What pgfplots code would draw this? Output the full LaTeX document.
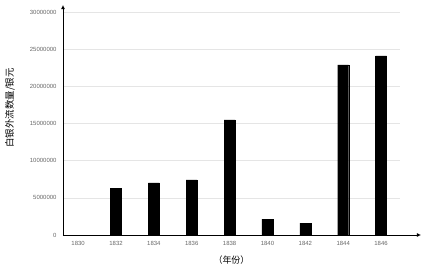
\documentclass[border=0pt]{standalone}
\usepackage{pgfplots}
\pgfplotsset{compat=1.18}
\usepackage{fontspec}
\setmainfont{Liberation Sans}
\newfontfamily\cjk{Noto Sans CJK SC}
\usetikzlibrary{arrows.meta}
\begin{document}
\begin{tikzpicture}
\useasboundingbox (-63bp,-30bp) rectangle (363bp,235bp);
\begin{axis}[
  at={(0,0)}, anchor=south west,
  scale only axis, width=337bp, height=223bp,
  xmin=-0.4, xmax=8.5, ymin=0, ymax=30000000,
  axis lines=left,
  x axis line style={-{Latex[length=4bp,width=4bp]}, shorten >=-21bp, line width=0.9bp},
  y axis line style={-{Latex[length=4bp,width=4bp]}, shorten >=-7bp, line width=0.9bp},
  xtick={0,1,2,3,4,5,6,7,8},
  xticklabels={1830,1832,1834,1836,1838,1840,1842,1844,1846},
  ytick={0,5000000,10000000,15000000,20000000,25000000,30000000},
  scaled y ticks=false,
  yticklabel={\pgfmathprintnumber[fixed,1000 sep={},precision=0]{\tick}},
  /pgf/number format/assume math mode=true,
  major tick length=0pt,
  ymajorgrids,
  grid style={gray!20, line width=0.6bp},
  ticklabel style={font=\fontsize{6}{7}\selectfont, text=gray!80!black},
  xticklabel style={yshift=-3bp},
  yticklabel style={xshift=-3bp},
  ylabel={\cjk 白银外流数量/银元},
  ylabel style={font=\cjk\fontsize{9.5}{10}\selectfont, at={(axis description cs:-0.157,0.57)}, anchor=center},
  xlabel={\cjk （年份）},
  xlabel style={font=\cjk\fontsize{9}{10}\selectfont, yshift=-3bp},
  ybar, bar width=11bp,
]
\addplot[fill=black, draw=black] coordinates {
(0,0) (1,6320000) (2,7000000) (3,7400000) (4,15500000) (5,2150000) (6,1600000) (7,22900000) (8,24100000)
};
\end{axis}
\end{tikzpicture}
\end{document}
